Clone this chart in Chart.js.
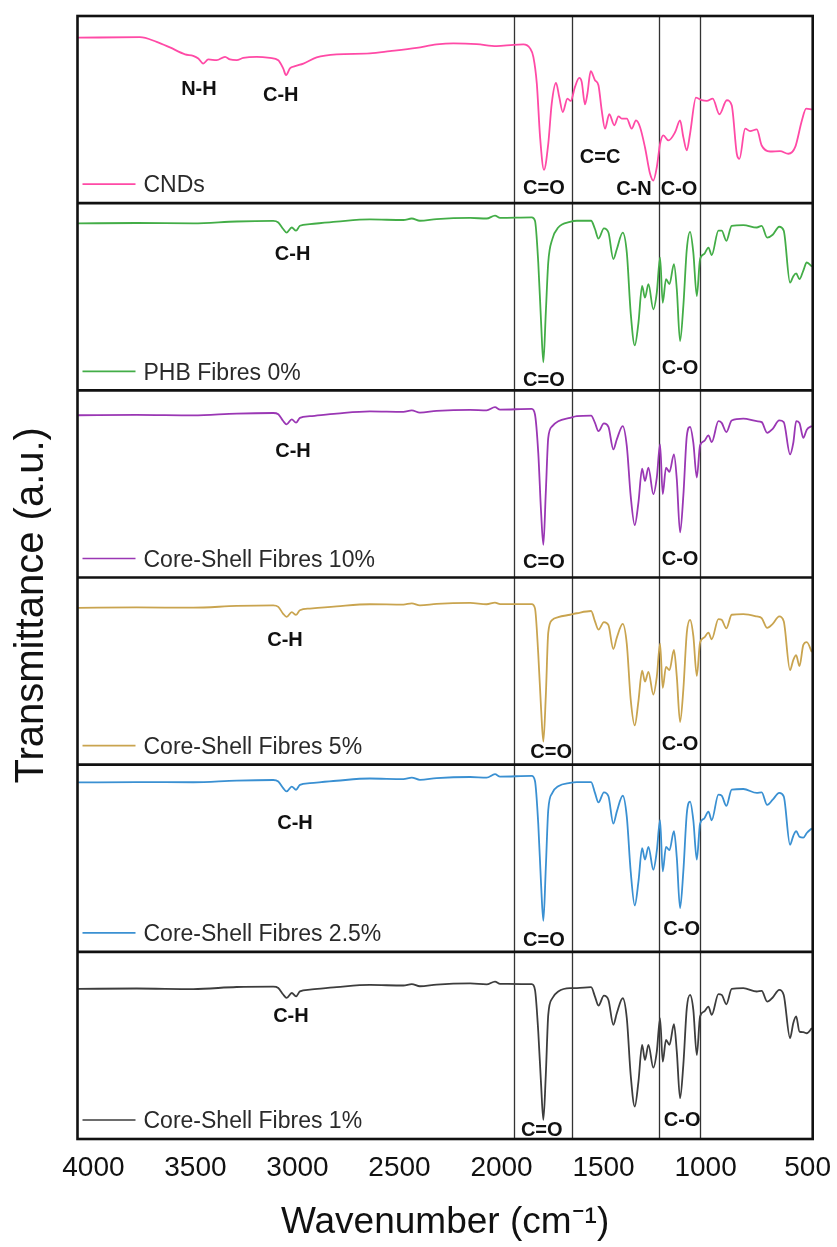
<!DOCTYPE html>
<html>
<head>
<meta charset="utf-8">
<script src="https://cdn.jsdelivr.net/npm/chart.js@4.4.1/dist/chart.umd.min.js"></script>
<style>
  html, body { margin: 0; padding: 0; background: #ffffff; }
  #wrap { position: relative; width: 837px; height: 1247px; }
</style>
</head>
<body>
<div id="wrap"><canvas id="c" width="837" height="1247"></canvas></div>
<script>
// ---------------- DATA ----------------
const wavenumberTicks = [4000, 3500, 3000, 2500, 2000, 1500, 1000, 500];

const seriesNames = ['CNDs', 'PHB Fibres 0%', 'Core-Shell Fibres 10%',
  'Core-Shell Fibres 5%', 'Core-Shell Fibres 2.5%', 'Core-Shell Fibres 1%'];

// CNDs spectrum (wavenumber, relative transmittance within its panel)
const cndWavenumbers = [4075, 3772, 3690, 3625, 3551, 3511, 3486, 3462, 3437, 3396, 3355, 3331, 3298, 3266,
  3200, 3135, 3094, 3070, 3056, 3037, 3012, 2971, 2906, 2808, 2645, 2547, 2416, 2318, 2236, 2122, 2024,
  1942, 1893, 1860, 1844, 1827, 1811, 1792, 1771, 1754, 1733, 1717, 1700, 1677, 1661, 1640, 1619, 1607,
  1591, 1579, 1563, 1542, 1525, 1509, 1493, 1472, 1447, 1427, 1411, 1386, 1362, 1341, 1321, 1297, 1272,
  1256, 1239, 1223, 1207, 1182, 1149, 1125, 1109, 1092, 1076, 1047, 1019, 994, 965, 932, 896, 872, 847,
  834, 806, 782, 749, 725, 684, 635, 594, 561, 528, 507, 479];
const cndValues = [0.884, 0.887, 0.862, 0.832, 0.795, 0.787, 0.773, 0.746, 0.768, 0.764, 0.782, 0.768, 0.764, 0.776,
  0.782, 0.776, 0.764, 0.720, 0.684, 0.720, 0.732, 0.746, 0.779, 0.795, 0.800, 0.812, 0.830, 0.848, 0.854, 0.850, 0.839,
  0.846, 0.848, 0.827, 0.782, 0.639, 0.353, 0.178, 0.317, 0.532, 0.642, 0.567, 0.487, 0.559, 0.546, 0.621, 0.669, 0.648,
  0.528, 0.586, 0.705, 0.657, 0.630, 0.496, 0.398, 0.475, 0.416, 0.464, 0.452, 0.452, 0.398, 0.442, 0.406, 0.299, 0.157,
  0.121, 0.192, 0.317, 0.362, 0.335, 0.380, 0.442, 0.353, 0.282, 0.371, 0.564, 0.550, 0.546, 0.559, 0.475, 0.550, 0.523, 0.264,
  0.237, 0.398, 0.385, 0.394, 0.308, 0.276, 0.278, 0.264, 0.299, 0.442, 0.505, 0.501];

// Wavenumbers shared by the PHB-based fibre spectra
const fibreWavenumbers = [4075, 3788, 3511, 3298, 3119, 3094, 3070, 3053, 3028, 3007, 2988, 2939, 2808, 2645,
  2481, 2440, 2400, 2318, 2154, 2073, 2032, 2007, 1852, 1836, 1820, 1806, 1795, 1783, 1771, 1751, 1722, 1664,
  1631, 1561, 1542, 1525, 1498, 1476, 1452, 1435, 1406, 1386, 1367, 1347, 1329, 1311, 1297, 1280, 1256, 1239,
  1223, 1210, 1194, 1177, 1155, 1141, 1125, 1109, 1092, 1076, 1060, 1043, 1027, 1007, 986, 970, 937, 921, 898,
  872, 815, 749, 725, 698, 671, 639, 617, 586, 570, 556, 540, 521, 504, 479];

const phb0Values = [0.892, 0.894, 0.892, 0.902, 0.905, 0.897, 0.862, 0.843, 0.870, 0.853, 0.879, 0.888, 0.901, 0.913,
  0.910, 0.918, 0.906, 0.915, 0.921, 0.918, 0.933, 0.921, 0.924, 0.906, 0.683, 0.361, 0.150, 0.414, 0.683, 0.808, 0.870, 0.900,
  0.906, 0.906, 0.862, 0.811, 0.865, 0.843, 0.701, 0.754, 0.843, 0.736, 0.414, 0.240, 0.361, 0.558, 0.495, 0.567, 0.433, 0.522,
  0.709, 0.468, 0.594, 0.567, 0.674, 0.540, 0.263, 0.450, 0.754, 0.847, 0.736, 0.504, 0.701, 0.728, 0.763, 0.722, 0.853, 0.853, 0.799,
  0.879, 0.883, 0.870, 0.879, 0.816, 0.831, 0.874, 0.853, 0.575, 0.610, 0.625, 0.594, 0.640, 0.683, 0.661];

const cs10Values = [0.867, 0.869, 0.866, 0.876, 0.879, 0.872, 0.836, 0.818, 0.845, 0.827, 0.853, 0.862, 0.876, 0.888,
  0.885, 0.893, 0.881, 0.890, 0.896, 0.893, 0.910, 0.897, 0.901, 0.871, 0.667, 0.347, 0.174, 0.454, 0.746, 0.809, 0.835, 0.853,
  0.862, 0.865, 0.826, 0.782, 0.823, 0.805, 0.685, 0.738, 0.809, 0.702, 0.436, 0.280, 0.401, 0.581, 0.516, 0.587, 0.445, 0.534,
  0.711, 0.445, 0.587, 0.564, 0.658, 0.525, 0.241, 0.436, 0.755, 0.805, 0.720, 0.534, 0.706, 0.729, 0.759, 0.723, 0.835, 0.826, 0.777,
  0.839, 0.849, 0.835, 0.830, 0.773, 0.794, 0.839, 0.830, 0.658, 0.720, 0.835, 0.826, 0.746, 0.790, 0.809];

const cs5Values = [0.838, 0.840, 0.839, 0.848, 0.851, 0.843, 0.806, 0.790, 0.815, 0.800, 0.825, 0.834, 0.846, 0.857,
  0.855, 0.862, 0.851, 0.859, 0.864, 0.857, 0.866, 0.858, 0.858, 0.835, 0.592, 0.297, 0.123, 0.366, 0.705, 0.774, 0.788, 0.801,
  0.809, 0.821, 0.766, 0.722, 0.762, 0.745, 0.618, 0.679, 0.752, 0.644, 0.349, 0.210, 0.340, 0.502, 0.444, 0.496, 0.375, 0.470,
  0.647, 0.410, 0.522, 0.505, 0.613, 0.470, 0.228, 0.401, 0.705, 0.774, 0.688, 0.474, 0.653, 0.679, 0.705, 0.670, 0.778, 0.774, 0.728,
  0.801, 0.804, 0.792, 0.783, 0.731, 0.752, 0.792, 0.766, 0.505, 0.560, 0.585, 0.526, 0.640, 0.655, 0.601];

const cs25Values = [0.905, 0.907, 0.906, 0.915, 0.918, 0.910, 0.875, 0.857, 0.883, 0.866, 0.892, 0.901, 0.914, 0.926,
  0.923, 0.931, 0.919, 0.928, 0.934, 0.931, 0.949, 0.936, 0.940, 0.913, 0.685, 0.357, 0.166, 0.448, 0.758, 0.849, 0.885, 0.903,
  0.907, 0.907, 0.849, 0.798, 0.852, 0.831, 0.685, 0.749, 0.834, 0.721, 0.430, 0.248, 0.375, 0.554, 0.493, 0.561, 0.439, 0.539,
  0.703, 0.430, 0.561, 0.543, 0.645, 0.503, 0.233, 0.430, 0.739, 0.803, 0.703, 0.493, 0.685, 0.712, 0.749, 0.703, 0.840, 0.834, 0.780,
  0.867, 0.870, 0.849, 0.852, 0.785, 0.813, 0.849, 0.831, 0.572, 0.620, 0.645, 0.615, 0.610, 0.635, 0.660];

const cs1Values = [0.802, 0.804, 0.801, 0.812, 0.814, 0.807, 0.772, 0.754, 0.780, 0.762, 0.789, 0.798, 0.811, 0.823,
  0.820, 0.828, 0.816, 0.825, 0.831, 0.826, 0.841, 0.829, 0.827, 0.797, 0.574, 0.289, 0.102, 0.342, 0.663, 0.752, 0.788, 0.806,
  0.806, 0.811, 0.761, 0.713, 0.766, 0.743, 0.610, 0.672, 0.752, 0.645, 0.342, 0.173, 0.306, 0.503, 0.422, 0.503, 0.381, 0.467,
  0.645, 0.413, 0.529, 0.503, 0.613, 0.467, 0.218, 0.396, 0.699, 0.770, 0.690, 0.449, 0.654, 0.681, 0.707, 0.663, 0.774, 0.770, 0.720,
  0.802, 0.806, 0.788, 0.791, 0.734, 0.756, 0.797, 0.770, 0.539, 0.620, 0.655, 0.574, 0.571, 0.565, 0.592];

// Band marker lines (wavenumber)
const bandLines = [1940, 1653, 1228, 1025];

// Band assignment labels: text, wavenumber, panel index (0 = top), level within panel
const bandLabelText = ['N-H', 'C-H', 'C=O', 'C=C', 'C-N', 'C-O',
  'C-H', 'C=O', 'C-O',
  'C-H', 'C=O', 'C-O',
  'C-H', 'C=O', 'C-O',
  'C-H', 'C=O', 'C-O',
  'C-H', 'C=O', 'C-O'];
const bandLabelWavenumber = [3483, 3082, 1792, 1517, 1351, 1130,
  3024, 1792, 1125,
  3022, 1792, 1125,
  3061, 1757, 1125,
  3012, 1792, 1117,
  3032, 1803, 1115];
const bandLabelPanel = [0, 0, 0, 0, 0, 0, 1, 1, 1, 2, 2, 2, 3, 3, 3, 4, 4, 4, 5, 5, 5];
const bandLabelLevel = [0.617, 0.586, 0.088, 0.255, 0.080, 0.080,
  0.736, 0.062, 0.124,
  0.681, 0.088, 0.104,
  0.672, 0.073, 0.116,
  0.694, 0.072, 0.126,
  0.663, 0.057, 0.107];

// ---------------- STYLE ----------------
const FONT = "'Liberation Sans', Arial, Helvetica, sans-serif";
const seriesColors = ['#ff4aa6', '#43ad47', '#9a37b4', '#c9a44f', '#3a90d2', '#3d3d3d'];
const panelCount = seriesNames.length;

const seriesX = [cndWavenumbers, fibreWavenumbers, fibreWavenumbers, fibreWavenumbers, fibreWavenumbers, fibreWavenumbers];
const seriesY = [cndValues, phb0Values, cs10Values, cs5Values, cs25Values, cs1Values];

const datasets = seriesNames.map((name, i) => ({
  label: name,
  data: seriesX[i].map((w, j) => ({ x: w, y: (panelCount - 1 - i) + seriesY[i][j] })),
  borderColor: seriesColors[i],
  backgroundColor: seriesColors[i],
  borderWidth: 1.8,
  pointRadius: 0,
  fill: false,
  cubicInterpolationMode: 'monotone'
}));

const decor = {
  id: 'spectraDecor',
  beforeDatasetsDraw(chart) {
    const { ctx, chartArea: a, scales: { x } } = chart;
    ctx.save();
    ctx.strokeStyle = '#333';
    ctx.lineWidth = 1.3;
    bandLines.forEach(w => {
      const px = Math.round(x.getPixelForValue(w)) + 0.5;
      ctx.beginPath();
      ctx.moveTo(px, a.top);
      ctx.lineTo(px, a.bottom);
      ctx.stroke();
    });
    ctx.restore();
  },
  afterDatasetsDraw(chart) {
    const { ctx, chartArea: a, scales: { x, y } } = chart;
    ctx.save();
    // panel separators and frame
    ctx.strokeStyle = '#111';
    ctx.lineWidth = 2.6;
    for (let k = 1; k < panelCount; k++) {
      const py = y.getPixelForValue(k);
      ctx.beginPath();
      ctx.moveTo(a.left, py);
      ctx.lineTo(a.right, py);
      ctx.stroke();
    }
    ctx.strokeRect(a.left, a.top, a.right - a.left, a.bottom - a.top);

    // per-panel legends
    chart.data.datasets.forEach((ds, i) => {
      const base = y.getPixelForValue(panelCount - 1 - i) - 19;
      ctx.strokeStyle = ds.borderColor;
      ctx.lineWidth = 1.6;
      ctx.beginPath();
      ctx.moveTo(a.left + 5, base);
      ctx.lineTo(a.left + 58, base);
      ctx.stroke();
      ctx.fillStyle = '#2a2a2a';
      ctx.font = '23px ' + FONT;
      ctx.textAlign = 'left';
      ctx.textBaseline = 'alphabetic';
      ctx.fillText(ds.label, a.left + 66, base + 8.3);
    });

    // band labels
    ctx.fillStyle = '#111';
    ctx.font = 'bold 20px ' + FONT;
    ctx.textAlign = 'center';
    ctx.textBaseline = 'alphabetic';
    bandLabelText.forEach((t, j) => {
      const px = x.getPixelForValue(bandLabelWavenumber[j]);
      const py = y.getPixelForValue(panelCount - 1 - bandLabelPanel[j] + bandLabelLevel[j]);
      ctx.fillText(t, px, py + 7.2);
    });
    ctx.restore();
  }
};

new Chart(document.getElementById('c'), {
  type: 'line',
  data: { datasets },
  options: {
    responsive: false,
    animation: false,
    events: [],
    layout: { padding: { top: 16, right: 24.3, bottom: 0, left: 0 } },
    plugins: { legend: { display: false }, tooltip: { enabled: false } },
    scales: {
      x: {
        type: 'linear',
        reverse: true,
        min: 475,
        max: 4078,
        afterBuildTicks: (scale) => { scale.ticks = wavenumberTicks.map(v => ({ value: v })); },
        afterFit: (scale) => {
          scale.height = 108;
          scale.paddingLeft = 0;
          scale.paddingRight = 0;
        },
        grid: { display: false, drawTicks: false },
        border: { display: false },
        ticks: {
          callback: (v) => String(v),
          font: { family: FONT, size: 28 },
          color: '#111',
          padding: 12,
          maxRotation: 0,
          autoSkip: false
        },
        title: {
          display: true,
          text: 'Wavenumber (cm\u207B\u00B9)',
          font: { family: FONT, size: 37, lineHeight: 1 },
          color: '#111',
          padding: { top: 0, bottom: 6 }
        }
      },
      y: {
        min: 0,
        max: panelCount,
        afterFit: (scale) => {
          scale.width = 77.5;
          scale.paddingTop = 0;
          scale.paddingBottom = 0;
        },
        grid: { display: false, drawTicks: false },
        border: { display: false },
        ticks: { display: false },
        title: {
          display: true,
          text: 'Transmittance (a.u.)\u00A0\u00A0\u00A0\u00A0\u00A0',
          font: { family: FONT, size: 40, lineHeight: 1 },
          color: '#111',
          padding: { top: 12, bottom: 0 }
        }
      }
    }
  },
  plugins: [decor]
});
</script>
</body>
</html>
